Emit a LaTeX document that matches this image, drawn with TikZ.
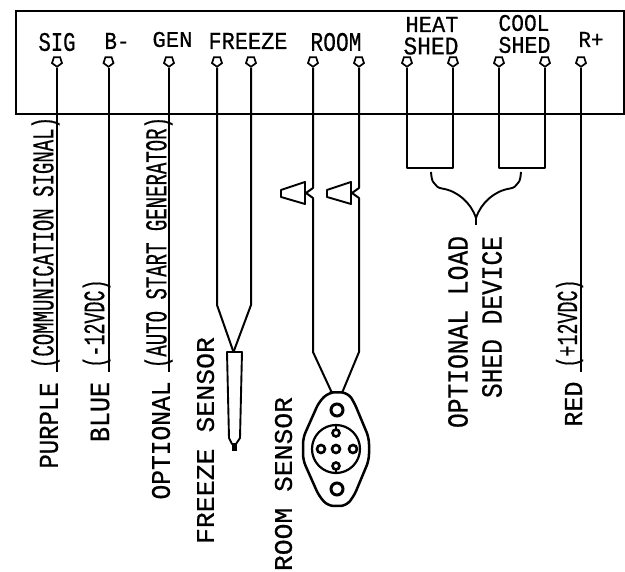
\documentclass[tikz,border=0pt]{standalone}
\usepackage{graphicx}
\usepackage{fontspec}
\setmainfont[FakeBold=0.6]{Liberation Mono}
\usetikzlibrary{shapes.geometric}
\tikzset{
  wire/.style={draw=black,line width=2pt,line join=round},
  pinmark/.style={regular polygon,regular polygon sides=5,shape border rotate=180,draw=black,line width=1.7pt,inner sep=0pt,minimum size=10.5pt,fill=white},
  lab/.style={inner sep=0pt,outer sep=0pt,text=black},
  vlab/.style={lab,rotate=90},
  thin part/.style={draw=black,line width=1.9pt,line join=round},
}
\newcommand{\fitted}[3]{\resizebox{#1pt}{#2pt}{#3}}
\begin{document}
\begin{tikzpicture}[x=1pt,y=-1pt]
\useasboundingbox (0,0) rectangle (625,572);
\fill[white] (0,0) rectangle (625,572);
% enclosure
\node[draw=black,line width=2pt,minimum width=608pt,minimum height=103pt,inner sep=0pt,anchor=north west] (box) at (15,10) {};
% terminal labels
\node[lab] (tsig) at (57,42) {\fitted{37}{18}{SIG}};
\node[lab] (tb) at (117,41) {\fitted{25}{16}{B-}};
\node[lab] (tgen) at (172.5,39.5) {\fitted{40}{15}{GEN}};
\node[lab] (tfr) at (248,41) {\fitted{79}{16}{FREEZE}};
\node[lab] (troom) at (336,42) {\fitted{51}{18}{ROOM}};
\node[lab] (theat) at (432,24.5) {\fitted{53}{15}{HEAT}};
\node[lab] (tshed) at (431,46) {\fitted{55}{17}{SHED}};
\node[lab] (tcool) at (524,23) {\fitted{51}{16}{COOL}};
\node[lab] (tshedb) at (524.5,45) {\fitted{52}{16}{SHED}};
\node[lab] (trp) at (591,39.5) {\fitted{25}{15}{R+}};
% terminals
\foreach \n/\x in {sig/57,bm/108.5,gen/169,fa/217,fb/251,ra/313,rb/359,ha/407,hb/453,ca/499,cb/545,rp/581}
  \node[pinmark] (p\n) at (\x,61.5) {};
% ends of wires
\coordinate (esig) at (57,372);
\coordinate (ebm) at (108.5,372);
\coordinate (egen) at (169,372);
\coordinate (erp) at (581,372);
\coordinate (ftip) at (233.5,352);
\coordinate (rsa) at (332,393);
\coordinate (rsb) at (342,393);
\draw[wire] (psig.corner 1) -- (esig);
\draw[wire] (pbm.corner 1) -- (ebm);
\draw[wire] (pgen.corner 1) -- (egen);
\draw[wire] (prp.corner 1) -- (erp);
\draw[wire] (pfa.corner 1) -- (217,305) -- (ftip);
\draw[wire] (pfb.corner 1) -- (251,305) -- (ftip);
\draw[wire] (pra.corner 1) -- (313,188) -- (306,193) -- (313,198) -- (313,352) -- (rsa);
\draw[wire] (prb.corner 1) -- (359,188) -- (352,193) -- (359,198) -- (359,352) -- (rsb);
\draw[wire] (pha.corner 1) -- (407,168) -- (453,168) -- (phb.corner 1);
\draw[wire] (pca.corner 1) -- (499,168) -- (545,168) -- (pcb.corner 1);
% connector symbols
\draw[thin part] (281,190) -- (305,182) -- (305,204) -- (281,197) -- cycle;
\draw[thin part] (327,190) -- (351,182) -- (351,204) -- (327,197) -- cycle;
% brace
\draw[thin part] (431,172) .. controls (431.5,178) and (432,181) .. (434,183) .. controls (436,186) and (438,188) .. (442,188.5) .. controls (458,191) and (471,203) .. (476,218) -- (476,225);
\draw[thin part] (521,172) .. controls (520.5,178) and (520,181) .. (518,183) .. controls (516,186) and (514,188) .. (510,188.5) .. controls (494,191) and (481,203) .. (476,218);
% freeze sensor
\draw[thin part] (227,352) -- (242,352) -- (240,438) -- (236,444) -- (232,444) -- (229,438) -- cycle;
\fill (232,443) rectangle (236.5,451);
% room sensor
\draw[line width=2.5pt,line join=round,rounded corners=6pt] (336,392) -- (348,393) -- (354,402) -- (369,438) -- (369,460) -- (354,496) -- (346,506) -- (328,506) -- (319,496) -- (303,460) -- (303,438) -- (319,402) -- (328,393) -- cycle;
\draw[line width=2.2pt] (336,449) circle (24);
\draw[line width=3pt] (337,410) circle (6);
\draw[line width=3pt] (337,489) circle (6);
\draw[line width=2.6pt] (336,449) circle (4);
\draw[line width=2.6pt] (321,449) circle (4);
\draw[line width=2.6pt] (353,449) circle (4);
\draw[line width=2.6pt] (336,433) circle (3.5);
\draw[line width=2.6pt] (336,466) circle (3.5);
\draw[line width=2pt] (336,425) -- (336,429);
\draw[line width=2pt] (336,470) -- (336,473);
% side labels
\node[vlab] (lpurple) at (49,425.5) {\fitted{86}{18}{PURPLE}};
\node[vlab] (lcomm) at (45.5,242.5) {\fitted{251}{22}{(COMMUNICATION SIGNAL)}};
\node[vlab] (lblue) at (100,412) {\fitted{60}{18.5}{BLUE}};
\node[vlab] (lvdc) at (96.5,323.5) {\fitted{88}{21.5}{(-12VDC)}};
\node[vlab] (lopt) at (161,440.5) {\fitted{118}{18}{OPTIONAL}};
\node[vlab] (lauto) at (158.5,242.5) {\fitted{251}{22}{(AUTO START GENERATOR)}};
\node[vlab] (lfs) at (205.5,440.5) {\fitted{207}{17}{FREEZE SENSOR}};
\node[vlab] (lrs) at (283.5,484) {\fitted{174}{17}{ROOM SENSOR}};
\node[vlab] (lload) at (458,332) {\fitted{192}{19.5}{OPTIONAL LOAD}};
\node[vlab] (ldev) at (492,317) {\fitted{162}{19.5}{SHED DEVICE}};
\node[vlab] (lred) at (573.5,404) {\fitted{45}{17}{RED}};
\node[vlab] (lpos) at (569.5,323.5) {\fitted{88}{21}{(+12VDC)}};
\end{tikzpicture}
\end{document}
